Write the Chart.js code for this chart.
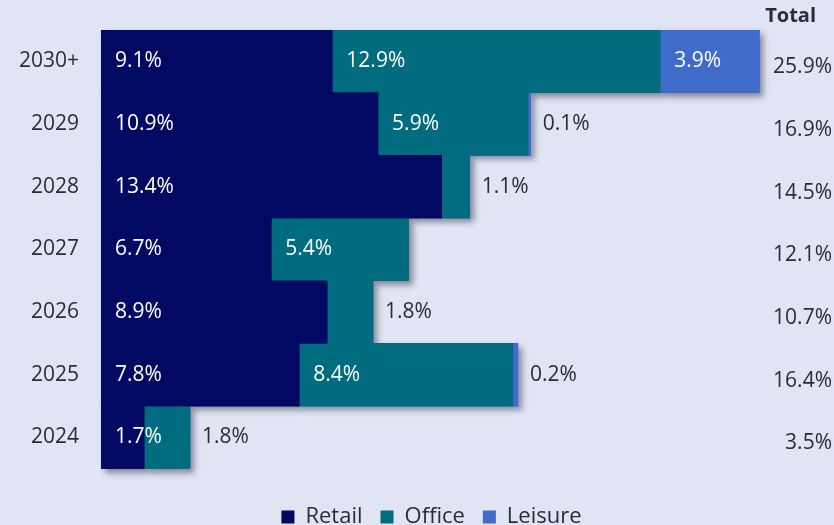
<!DOCTYPE html>
<html>
<head>
<meta charset="utf-8">
<script src="https://cdn.jsdelivr.net/npm/chart.js@4"></script>
<style>
html,body{margin:0;padding:0;background:#e1e4f2;}
#wrap{width:834px;height:525px;position:relative;}
</style>
</head>
<body>
<div id="wrap"><canvas id="c" width="834" height="525"></canvas></div>
<script>
const categories = ['2030+','2029','2028','2027','2026','2025','2024'];
const retail  = [9.1, 10.9, 13.4, 6.7, 8.9, 7.8, 1.7];
const office  = [12.9, 5.9, 1.1, 5.4, 1.8, 8.4, 1.8];
const leisure = [3.9, 0.1, 0, 0, 0, 0.2, 0];
const totals  = ['25.9%','16.9%','14.5%','12.1%','10.7%','16.4%','3.5%'];

const FONT = '"Open Sans", Lato, sans-serif';
const TEXT = '#2a2b3d';
const COLORS = ['#020962', '#016b80', '#3f6bcb'];

const shadowPlugin = {
  id: 'shadow',
  beforeDatasetsDraw(chart) {
    const ctx = chart.ctx;
    ctx.save();
    ctx.shadowColor = 'rgba(20,20,50,0.45)';
    ctx.shadowBlur = 6;
    ctx.shadowOffsetX = 4;
    ctx.shadowOffsetY = 4;
    chart.data.datasets.forEach((ds, di) => {
      const meta = chart.getDatasetMeta(di);
      ctx.fillStyle = ds.backgroundColor;
      meta.data.forEach((el, i) => {
        if (!ds.data[i]) return;
        const x0 = Math.min(el.x, el.base), w = Math.abs(el.x - el.base);
        ctx.fillRect(x0, el.y - el.height / 2, w, el.height);
      });
    });
    ctx.restore();
  }
};

const labelPlugin = {
  id: 'labels',
  afterDatasetsDraw(chart) {
    const ctx = chart.ctx;
    ctx.save();
    ctx.font = '21px ' + FONT;
    ctx.textBaseline = 'middle';
    ctx.textAlign = 'left';
    const n = chart.data.labels.length;
    for (let i = 0; i < n; i++) {
      let stackEnd = 0;
      chart.data.datasets.forEach((ds, di) => {
        const el = chart.getDatasetMeta(di).data[i];
        if (ds.data[i]) stackEnd = Math.max(stackEnd, el.x);
      });
      chart.data.datasets.forEach((ds, di) => {
        const v = ds.data[i];
        if (!v) return;
        const el = chart.getDatasetMeta(di).data[i];
        const txt = v.toFixed(1) + '%';
        if (di === 0 || v >= 2) {
          ctx.fillStyle = '#ffffff';
          ctx.fillText(txt, el.base + 14, el.y);
        } else {
          ctx.fillStyle = TEXT;
          ctx.fillText(txt, stackEnd + 12, el.y);
        }
      });
    }
    const ys = chart.scales.y;
    ctx.fillStyle = TEXT;
    ctx.textAlign = 'right';
    chart.data.labels.forEach((lab, i) => {
      ctx.fillText(lab, chart.chartArea.left - 22, ys.getPixelForValue(i));
    });
    totals.forEach((t, i) => {
      ctx.fillText(t, 832, ys.getPixelForValue(i) + 6);
    });
    ctx.font = 'bold 20px ' + FONT;
    ctx.fillText('Total', 816, 16);
    ctx.restore();
  }
};

new Chart(document.getElementById('c'), {
  type: 'bar',
  data: {
    labels: categories,
    datasets: [
      { label: 'Retail', data: retail, backgroundColor: COLORS[0] },
      { label: 'Office', data: office, backgroundColor: COLORS[1] },
      { label: 'Leisure', data: leisure, backgroundColor: COLORS[2] }
    ]
  },
  options: {
    indexAxis: 'y',
    responsive: false,
    animation: false,
    layout: { padding: { left: 101, top: 30, right: 72, bottom: -13 } },
    datasets: { bar: { barPercentage: 1, categoryPercentage: 1, borderWidth: 0 } },
    scales: {
      x: { stacked: true, min: 0, max: 26, display: false },
      y: { stacked: true, display: false }
    },
    plugins: {
      tooltip: { enabled: false },
      legend: {
        position: 'bottom',
        title: { display: true, text: ' ', font: { size: 1 }, padding: { top: 10, bottom: 8 } },
        labels: {
          color: TEXT,
          font: { size: 22, family: FONT },
          boxWidth: 13, boxHeight: 13, padding: 18
        }
      }
    }
  },
  plugins: [shadowPlugin, labelPlugin]
});
</script>
</body>
</html>
